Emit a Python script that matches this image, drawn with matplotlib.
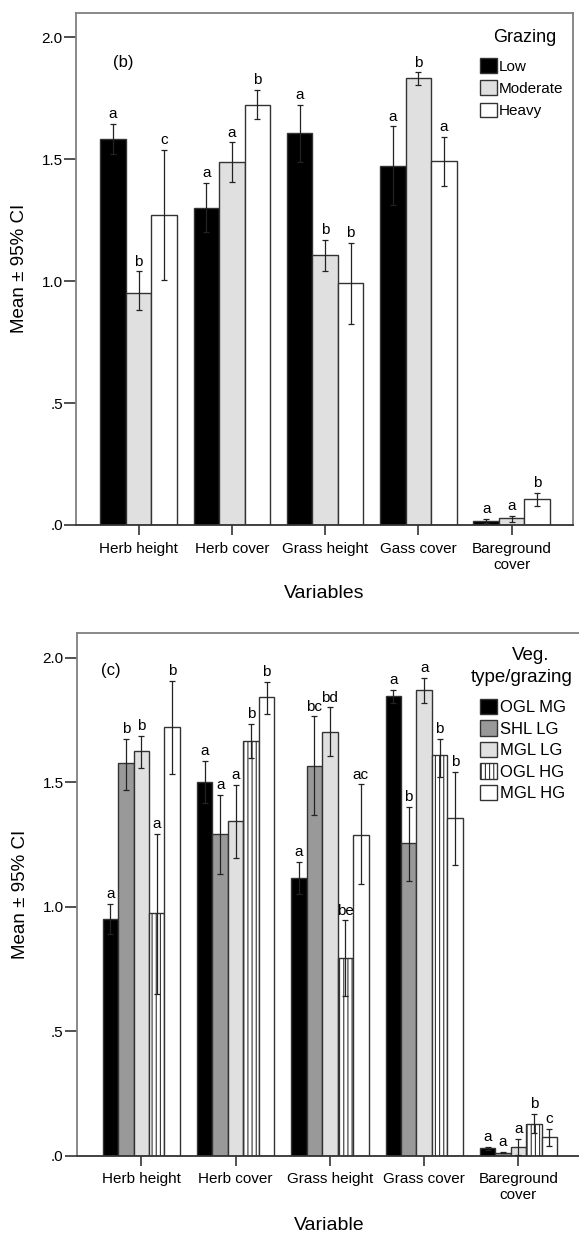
import matplotlib.pyplot as plt
import numpy as np

plt.rcParams['font.family'] = ['Liberation Sans', 'DejaVu Sans']
plt.rcParams['hatch.linewidth'] = 0.8

# shared categories
variables_b = ['Herb height', 'Herb cover', 'Grass height', 'Gass cover', 'Bareground\ncover']
variables_c = ['Herb height', 'Herb cover', 'Grass height', 'Grass cover', 'Bareground\ncover']

# panel (b): grazing intensity
grazing = ['Low', 'Moderate', 'Heavy']
b_mean = {
    'Low':      [1.582, 1.301, 1.605, 1.473, 0.016],
    'Moderate': [0.950, 1.487, 1.105, 1.832, 0.027],
    'Heavy':    [1.270, 1.723, 0.990, 1.492, 0.105],
}
b_lo = {
    'Low':      [1.520, 1.200, 1.490, 1.310, 0.007],
    'Moderate': [0.882, 1.405, 1.043, 1.803, 0.014],
    'Heavy':    [1.005, 1.664, 0.822, 1.391, 0.079],
}
b_hi = {
    'Low':      [1.644, 1.403, 1.723, 1.634, 0.025],
    'Moderate': [1.040, 1.568, 1.169, 1.855, 0.037],
    'Heavy':    [1.538, 1.784, 1.157, 1.592, 0.132],
}
b_letters = {
    'Low':      ['a', 'a', 'a', 'a', 'a'],
    'Moderate': ['b', 'a', 'b', 'b', 'a'],
    'Heavy':    ['c', 'b', 'b', 'a', 'b'],
}

# panel (c): vegetation type / grazing
vegtypes = ['OGL MG', 'SHL LG', 'MGL LG', 'OGL HG', 'MGL HG']
c_mean = {
    'OGL MG': [0.951, 1.500, 1.114, 1.844, 0.030],
    'SHL LG': [1.576, 1.290, 1.565, 1.257, 0.012],
    'MGL LG': [1.623, 1.343, 1.703, 1.871, 0.034],
    'OGL HG': [0.975, 1.665, 0.792, 1.609, 0.128],
    'MGL HG': [1.721, 1.840, 1.289, 1.356, 0.074],
}
c_lo = {
    'OGL MG': [0.890, 1.415, 1.050, 1.817, 0.024],
    'SHL LG': [1.468, 1.132, 1.367, 1.102, 0.009],
    'MGL LG': [1.555, 1.196, 1.606, 1.817, 0.002],
    'OGL HG': [0.648, 1.596, 0.641, 1.522, 0.090],
    'MGL HG': [1.532, 1.773, 1.089, 1.165, 0.039],
}
c_hi = {
    'OGL MG': [1.012, 1.585, 1.179, 1.871, 0.036],
    'SHL LG': [1.674, 1.448, 1.764, 1.401, 0.015],
    'MGL LG': [1.686, 1.488, 1.800, 1.918, 0.066],
    'OGL HG': [1.293, 1.733, 0.944, 1.674, 0.167],
    'MGL HG': [1.905, 1.901, 1.491, 1.542, 0.106],
}
c_letters = {
    'OGL MG': ['a', 'a', 'a', 'a', 'a'],
    'SHL LG': ['b', 'a', 'bc', 'b', 'a'],
    'MGL LG': ['b', 'a', 'bd', 'a', 'a'],
    'OGL HG': ['a', 'b', 'be', 'b', 'b'],
    'MGL HG': ['b', 'b', 'ac', 'b', 'c'],
}

b_colors = {'Low': 'black', 'Moderate': '#e0e0e0', 'Heavy': 'white'}
c_colors = {'OGL MG': 'black', 'SHL LG': '#999999', 'MGL LG': '#e0e0e0',
            'OGL HG': 'white', 'MGL HG': 'white'}
c_hatch = {'OGL HG': '||||'}

W, H = 579, 1233
fig = plt.figure(figsize=(W / 100, H / 100), dpi=100)


def style_axes(ax, labels):
    ax.set_ylim(0, 2.1)
    ax.set_yticks([0, 0.5, 1.0, 1.5, 2.0])
    ax.set_yticklabels(['.0', '.5', '1.0', '1.5', '2.0'])
    ax.set_xticks(np.arange(len(labels)))
    ax.set_xticklabels(labels, fontsize=11, linespacing=1.2)
    ax.tick_params(axis='y', length=9, width=1.2, pad=0.5, labelsize=11, color='#333333')
    ax.tick_params(axis='x', length=7, width=1.2, pad=5, color='#333333')
    for s in ax.spines.values():
        s.set_color('#808080')
        s.set_linewidth(1.3)
    ax.spines['bottom'].set_color('#333333')


def draw_group(ax, groups, means, lo, hi, letters, colors, width, hatches):
    x = np.arange(5)
    n = len(groups)
    for i, g in enumerate(groups):
        xs = x + (i - (n - 1) / 2) * width
        ax.bar(xs, means[g], width, color=colors[g], edgecolor='#333333',
               linewidth=1.0, hatch=hatches.get(g), label=g, zorder=2)
        m = np.array(means[g])
        err = [m - np.array(lo[g]), np.array(hi[g]) - m]
        ax.errorbar(xs, m, yerr=err, fmt='none', ecolor='#222222',
                    elinewidth=0.9, capsize=2.5, capthick=0.9, zorder=3)
        for xi, top, lab in zip(xs, hi[g], letters[g]):
            ax.annotate(lab, (xi, top), xytext=(0, 2), textcoords='offset points',
                        ha='center', va='bottom', fontsize=11)


# ---- panel (b)
ax1 = fig.add_axes([76 / W, 1 - 525 / H, (573 - 76) / W, (525 - 12.7) / H])
draw_group(ax1, grazing, b_mean, b_lo, b_hi, b_letters, b_colors, 0.273, {})
style_axes(ax1, variables_b)
ax1.set_xlim(-0.67, 4.657)
ax1.set_ylabel('Mean \u00b1 95% CI', fontsize=13.5, va='center')
ax1.yaxis.set_label_coords(-0.113, 0.5)
ax1.set_xlabel('Variables', fontsize=14, va='center')
ax1.xaxis.set_label_coords(0.5, (525 - 594) / 512.3)
fig.text(123 / W, 1 - 63 / H, '(b)', fontsize=12, ha='center', va='center')
fig.text(524.7 / W, 1 - 38 / H, 'Grazing', fontsize=13, ha='center', va='center')
ax1.legend(fontsize=11, frameon=False,
           loc='upper left', bbox_to_anchor=(480 / W, 1 - 58 / H),
           bbox_transform=fig.transFigure, borderpad=0, borderaxespad=0,
           handlelength=1.1, handleheight=1.1, handletextpad=0.15,
           labelspacing=0.45)

# ---- panel (c)
ax2 = fig.add_axes([76.7 / W, 1 - 1155.5 / H, (581 - 76.7) / W, (1155.5 - 632.7) / H])
draw_group(ax2, vegtypes, c_mean, c_lo, c_hi, c_letters, c_colors, 0.164, c_hatch)
style_axes(ax2, variables_c)
ax2.set_xlim(-0.685, 4.663)
ax2.set_ylabel('Mean \u00b1 95% CI', fontsize=13.5, va='center')
ax2.yaxis.set_label_coords(-0.111, 0.5)
ax2.set_xlabel('Variable', fontsize=14, va='center')
ax2.xaxis.set_label_coords(0.5, (1155.5 - 1225) / 522.8)
fig.text(111 / W, 1 - 670 / H, '(c)', fontsize=12, ha='center', va='center')
fig.text(531 / W, 1 - 655 / H, 'Veg.', fontsize=13.5, ha='center', va='center')
fig.text(522 / W, 1 - 677 / H, 'type/grazing', fontsize=13.5, ha='center', va='center')
ax2.legend(fontsize=12, frameon=False,
           loc='upper left', bbox_to_anchor=(480 / W, 1 - 699 / H),
           bbox_transform=fig.transFigure, borderpad=0, borderaxespad=0,
           handlelength=1.05, handleheight=1.05, handletextpad=0.15,
           labelspacing=0.3)

fig.savefig('out.png', dpi=100)
